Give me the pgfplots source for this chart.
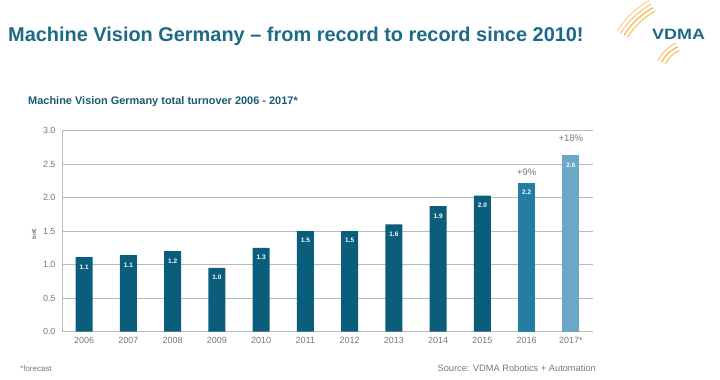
\documentclass[border=0pt]{standalone}
\usepackage{pgfplots}
\pgfplotsset{compat=1.18}
\usepackage{fontspec}
\setmainfont{Liberation Sans}
\definecolor{bardark}{HTML}{0B5E7B}
\definecolor{barmid}{HTML}{247DA2}
\definecolor{barlight}{HTML}{6BA8C8}
\definecolor{titleteal}{HTML}{1D6A86}
\definecolor{gridgray}{HTML}{B4BCC0}
\definecolor{txtgray}{HTML}{6E7B80}
\definecolor{vdmaorange}{HTML}{F2B13C}
\begin{document}
\begin{tikzpicture}
\path (0bp,0bp) rectangle (720bp,379bp);
% title
\node[anchor=west,inner sep=0pt,text=titleteal,font=\fontsize{20}{22}\selectfont\bfseries] at (8bp,343bp) {Machine Vision Germany -- from record to record since 2010!};
\node[anchor=west,inner sep=0pt,text=titleteal!85!black,font=\fontsize{11}{12}\selectfont\bfseries] at (28bp,278bp) {Machine Vision Germany total turnover 2006 - 2017*};
% logo
\begin{scope}[line width=1.1bp]
\foreach \r/\c in {76/vdmaorange!80!white,80/vdmaorange,84/vdmaorange!70!white,88/vdmaorange!55!white}{
  \draw[\c] (692bp,302bp) ++(148:\r bp) arc[start angle=148,end angle=119,radius=\r bp];
}
\foreach \r/\c in {30/vdmaorange!80!white,34/vdmaorange,38/vdmaorange!70!white}{
  \draw[\c] (692bp,302bp) ++(153:\r bp) arc[start angle=153,end angle=115,radius=\r bp];
}
\end{scope}
\node[anchor=west,inner sep=0pt,text=titleteal,font=\fontsize{15}{17}\selectfont\bfseries,xscale=1.2] at (652bp,345bp) {VDMA};
% footer
\node[anchor=west,inner sep=0pt,text=txtgray,font=\fontsize{8}{9}\selectfont] at (20bp,11bp) {*forecast};
\node[anchor=east,inner sep=0pt,text=txtgray,font=\fontsize{9.3}{11}\selectfont] at (596bp,11bp) {Source: VDMA Robotics + Automation};
\begin{axis}[
  at={(62bp,48bp)}, anchor=south west,
  width=531bp, height=201bp, scale only axis,
  xmin=-0.5, xmax=11.5, ymin=0, ymax=3,
  ybar, bar width=17bp, bar shift=0pt,
  axis x line*=bottom, axis y line*=left,
  axis line style={gridgray, line width=0.8bp},
  ymajorgrids, grid style={gridgray, line width=0.8bp},
  ytick={0,0.5,...,3.0},
  yticklabel style={/pgf/number format/fixed,/pgf/number format/fixed zerofill,/pgf/number format/precision=1},
  /pgf/number format/assume math mode=true,
  xtick={0,...,11},
  xticklabels={2006,2007,2008,2009,2010,2011,2012,2013,2014,2015,2016,2017*},
  major tick length=0pt,
  tick label style={text=txtgray, font=\fontsize{9}{10}\selectfont},
  xticklabel style={yshift=-2bp},
  yticklabel style={xshift=-3bp},
  ylabel={bn\texteuro}, ylabel style={font=\fontsize{6}{7}\selectfont\bfseries, text=txtgray},
  every axis y label/.append style={at={(ticklabel cs:0.5)}, xshift=-3bp},
  nodes near coords, point meta=explicit symbolic,
  every node near coord/.append style={anchor=north, yshift=-4bp, text=white, font=\fontsize{6.5}{7}\selectfont\bfseries},
  clip=false
]
\addplot[fill=bardark, draw=none] coordinates {
 (0,1.11) [1.1] (1,1.14) [1.1] (2,1.20) [1.2] (3,0.95) [1.0] (4,1.25) [1.3]
 (5,1.50) [1.5] (6,1.50) [1.5] (7,1.60) [1.6] (8,1.87) [1.9] (9,2.03) [2.0]};
\addplot[fill=barmid, draw=none] coordinates {(10,2.22) [2.2]};
\addplot[fill=barlight, draw=none] coordinates {(11,2.63) [2.6]};
\node[anchor=south, text=txtgray, font=\fontsize{9.5}{11}\selectfont, inner sep=0pt] at (axis cs:10,2.33) {+9\%};
\node[anchor=south, text=txtgray, font=\fontsize{9.5}{11}\selectfont, inner sep=0pt] at (axis cs:11,2.83) {+18\%};
\end{axis}
\end{tikzpicture}
\end{document}
